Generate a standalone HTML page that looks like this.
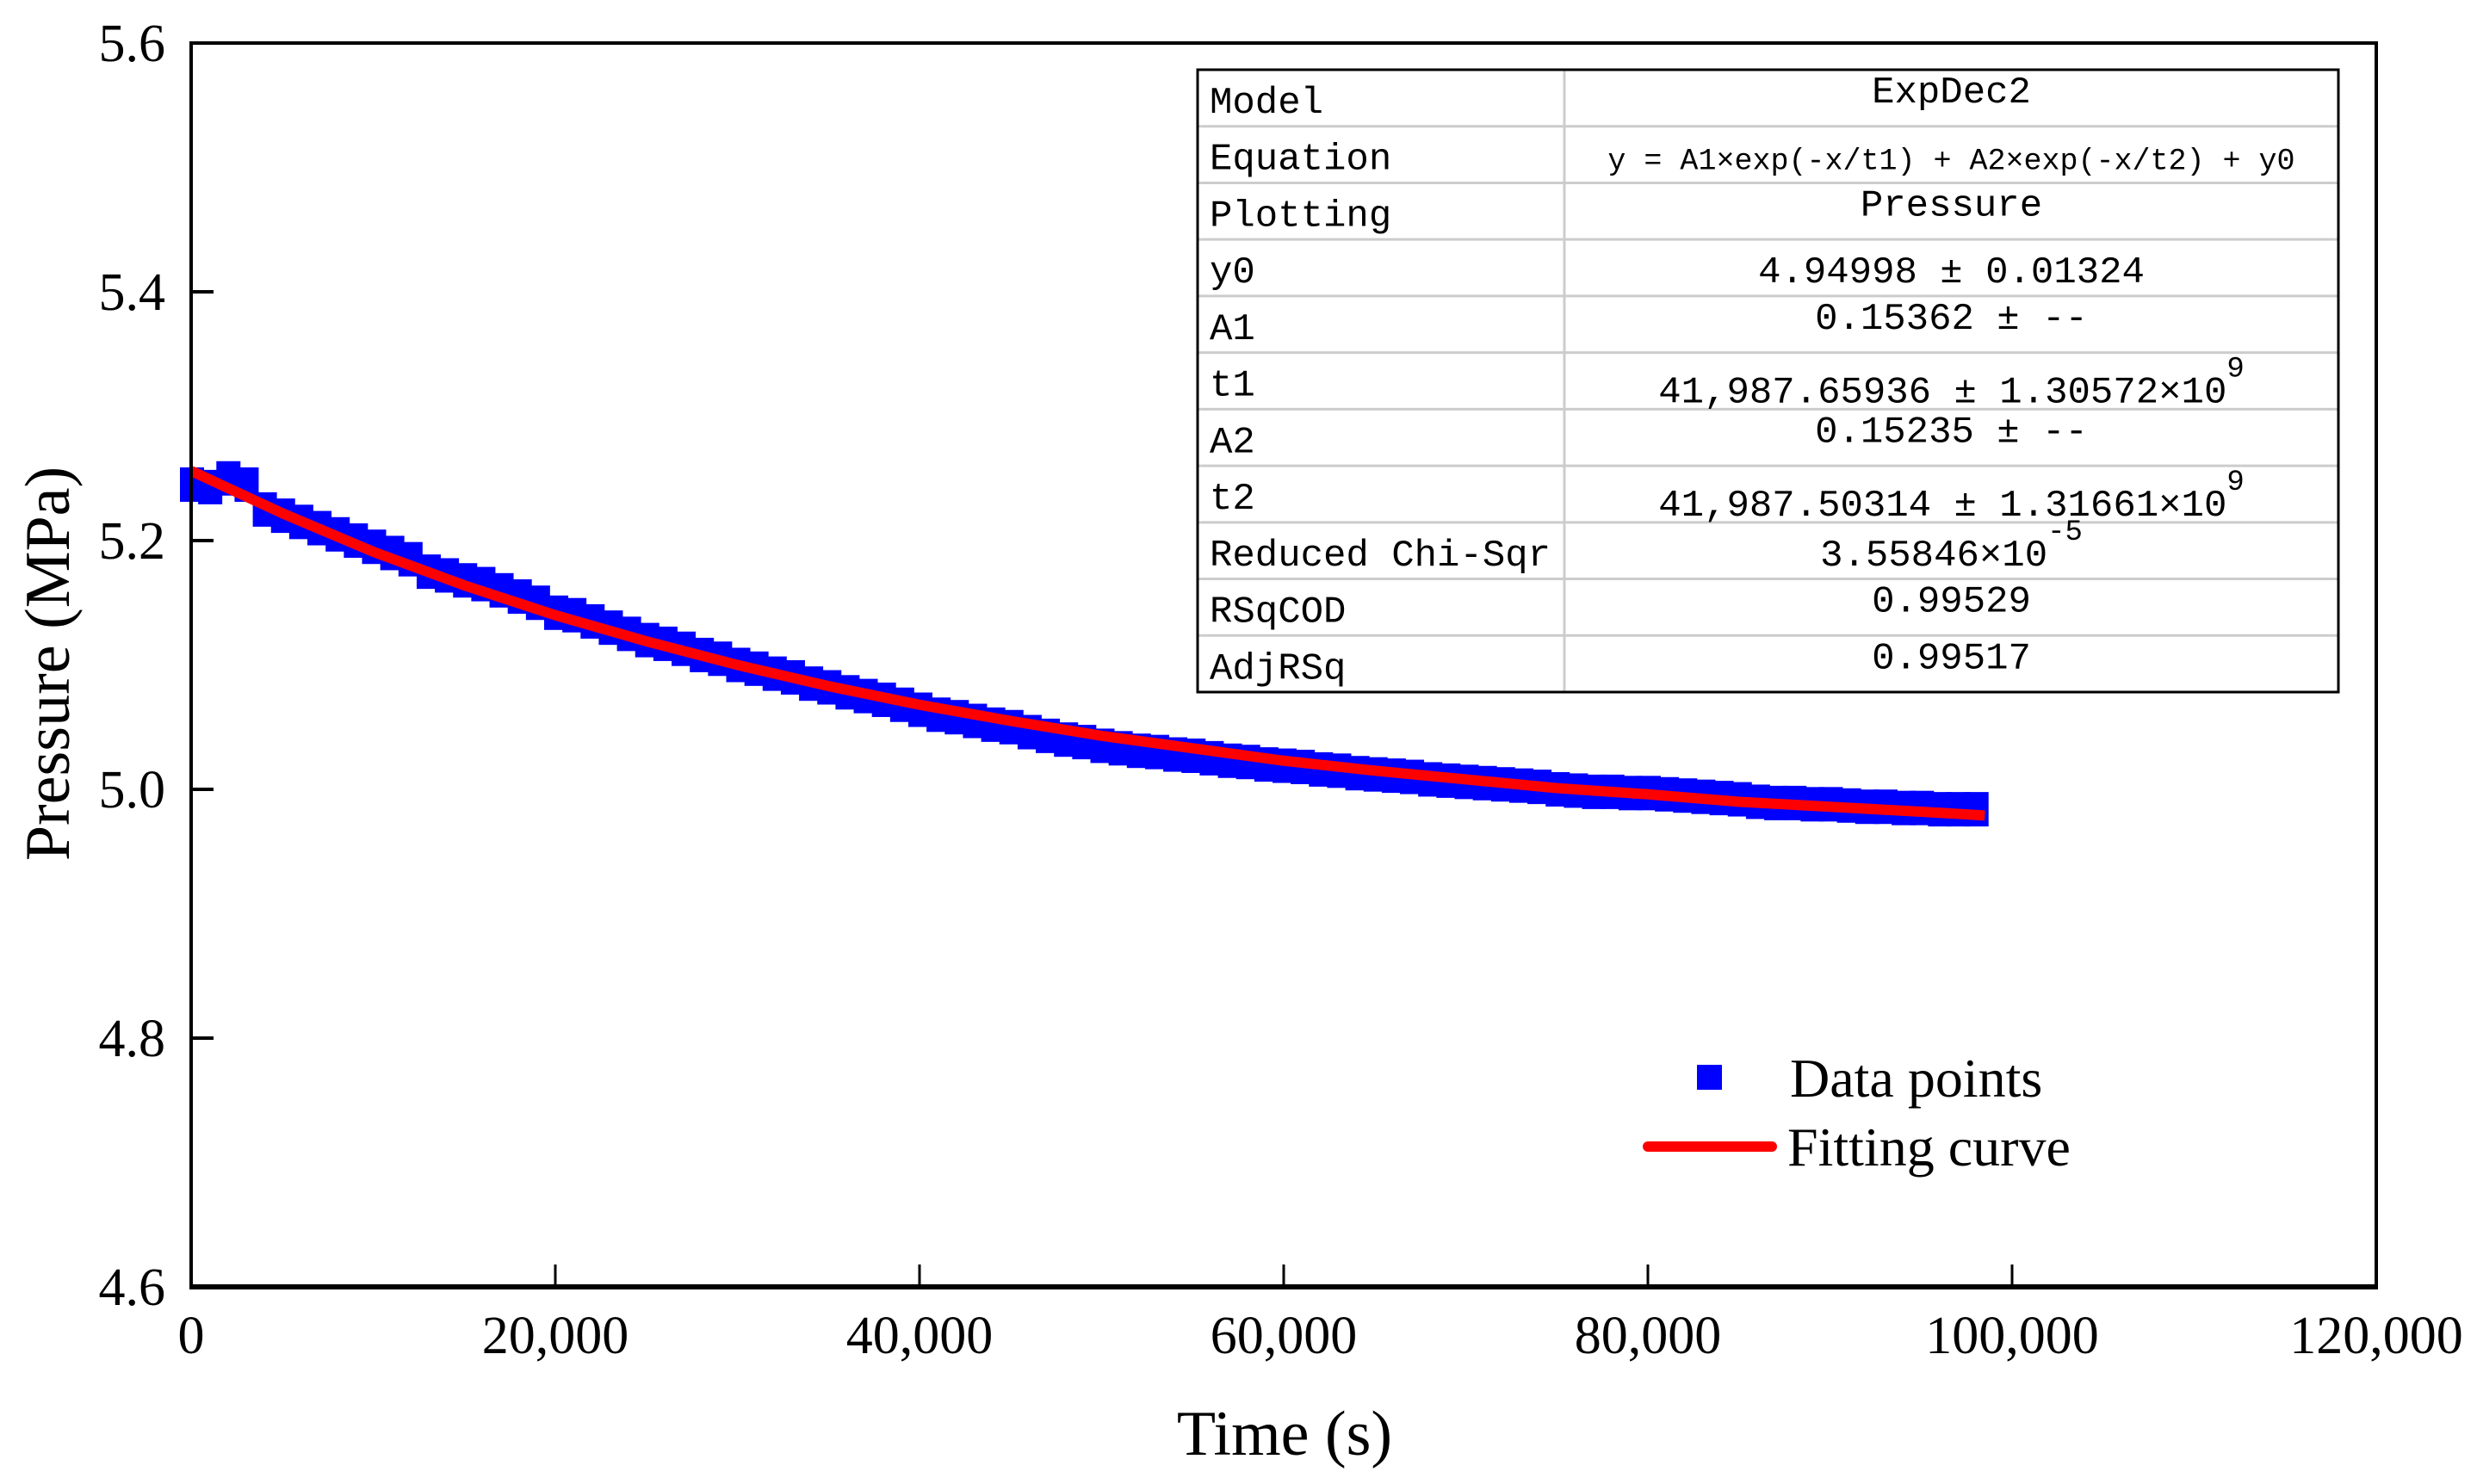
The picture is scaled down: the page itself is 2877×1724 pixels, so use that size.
<!DOCTYPE html>
<html><head><meta charset="utf-8">
<style>
html,body{margin:0;padding:0;background:#fff;}
svg{display:block;}
.tk{font-family:"Liberation Serif",serif;font-size:62px;fill:#000;}
.tb{font-family:"Liberation Mono","Noto Sans CJK SC",monospace;font-size:44px;fill:#000;}
</style></head>
<body>
<svg id="chart" width="2877" height="1724" viewBox="0 0 2877 1724" xmlns="http://www.w3.org/2000/svg">
<g id="marks"></g>
<g id="axes"></g>
<g id="table"></g>
<g>
  <rect x="1971" y="1237" width="29" height="29" fill="#0000ff"/>
  <text x="2079" y="1274" style="font-family:'Liberation Serif',serif;font-size:64px">Data points</text>
  <rect x="1908" y="1326" width="156" height="12" rx="6" fill="#ff0000"/>
  <text x="2076" y="1354" style="font-family:'Liberation Serif',serif;font-size:64px">Fitting curve</text>
</g>
<text x="1492" y="1690" text-anchor="middle" style="font-family:'Liberation Serif',serif;font-size:74px">Time (s)</text>
<text transform="translate(80,771) rotate(-90)" text-anchor="middle" style="font-family:'Liberation Serif',serif;font-size:74px">Pressure (MPa)</text>
</svg>
<script>
const xTicks=[0,20000,40000,60000,80000,100000,120000];
const xTickLabels=["0","20,000","40,000","60,000","80,000","100,000","120,000"];
const yTicks=[4.6,4.8,5.0,5.2,5.4,5.6];
const yTickLabels=["4.6","4.8","5.0","5.2","5.4","5.6"];
const dataTimes=[0,1000,2000,3000,4000,5000,6000,7000,8000,9000,10000,11000,12000,13000,14000,15000,16000,17000,18000,19000,20000,21000,22000,23000,24000,25000,26000,27000,28000,29000,30000,31000,32000,33000,34000,35000,36000,37000,38000,39000,40000,41000,42000,43000,44000,45000,46000,47000,48000,49000,50000,51000,52000,53000,54000,55000,56000,57000,58000,59000,60000,61000,62000,63000,64000,65000,66000,67000,68000,69000,70000,71000,72000,73000,74000,75000,76000,77000,78000,79000,80000,81000,82000,83000,84000,85000,86000,87000,88000,89000,90000,91000,92000,93000,94000,95000,96000,97000,98000];
const dataPressure=[5.245,5.243,5.25,5.245,5.225,5.22,5.215,5.21,5.205,5.2,5.195,5.19,5.185,5.175,5.172,5.168,5.165,5.16,5.155,5.15,5.142,5.14,5.135,5.13,5.125,5.12,5.117,5.113,5.108,5.105,5.1,5.097,5.093,5.09,5.085,5.082,5.078,5.075,5.072,5.068,5.064,5.06,5.058,5.055,5.052,5.05,5.046,5.043,5.04,5.038,5.035,5.033,5.031,5.03,5.028,5.027,5.025,5.023,5.022,5.02,5.019,5.018,5.016,5.015,5.013,5.012,5.011,5.01,5.008,5.007,5.006,5.005,5.004,5.003,5.002,5.0,4.999,4.998,4.998,4.997,4.997,4.996,4.995,4.994,4.993,4.992,4.99,4.989,4.989,4.988,4.988,4.987,4.986,4.986,4.985,4.985,4.984,4.984,4.984];
const fitTimes=[0,5000,10000,15000,20000,25000,30000,35000,40000,45000,50000,55000,60000,65000,70000,75000,80000,85000,90000,95000,98500];
const fitPressure=[5.256,5.222,5.191,5.164,5.140,5.119,5.100,5.083,5.068,5.055,5.043,5.033,5.023,5.015,5.008,5.001,4.996,4.990,4.986,4.982,4.979];

const L=222,R=2760,T=50,B=1495;
const xs=v=>L+(v-0)/120000*(R-L);
const ys=v=>B-(v-4.6)/1.0*(B-T);
const NS="http://www.w3.org/2000/svg";
function mk(tag,parent,attrs){const e=document.createElementNS(NS,tag);for(const k in attrs)e.setAttribute(k,attrs[k]);parent.appendChild(e);return e;}
const marks=document.getElementById('marks'),axes=document.getElementById('axes');

dataTimes.forEach((t,i)=>{
  const r=mk('rect',marks,{x:xs(t)-13,y:ys(dataPressure[i])-20,width:28,height:40,fill:'#0000ff'});
  
  
});
const pts=fitTimes.map((t,i)=>xs(t)+','+ys(fitPressure[i])).join(' ');
const fl=mk('polyline',marks,{points:pts,fill:'none',stroke:'#ff0000','stroke-width':12,'stroke-linejoin':'round'});



const frame=mk('rect',axes,{x:L,y:T,width:R-L,height:B-T,fill:'none',stroke:'#000','stroke-width':4});


const bx=mk('line',axes,{x1:L-2,x2:R+2,y1:B,y2:B,stroke:'#000','stroke-width':6});


xTicks.forEach((v,i)=>{
  if(i>0&&i<xTicks.length-1){const tl=mk('line',axes,{x1:xs(v),x2:xs(v),y1:B,y2:B-26,stroke:'#000','stroke-width':3});
  
  }
  const tx=mk('text',axes,{x:xs(v),y:1572,'text-anchor':'middle',class:'tk'});tx.textContent=xTickLabels[i];
  
  
});
yTicks.forEach((v,i)=>{
  if(i>0&&i<yTicks.length-1){const tl=mk('line',axes,{x1:L,x2:L+26,y1:ys(v),y2:ys(v),stroke:'#000','stroke-width':4});
  
  }
  const tx=mk('text',axes,{x:192,y:ys(v)+21,'text-anchor':'end',class:'tk'});tx.textContent=yTickLabels[i];
  
  
});

// table
const tbl=document.getElementById('table');
const TL=1391,TR=2716,TT=81,TB=804,CD=1817,rows=11,rh=(TB-TT)/rows;
mk('rect',tbl,{x:TL,y:TT,width:TR-TL,height:TB-TT,fill:'#fff',stroke:'none'});
for(let i=1;i<rows;i++)mk('line',tbl,{x1:TL,x2:TR,y1:TT+i*rh,y2:TT+i*rh,stroke:'#cccccc','stroke-width':3});
mk('line',tbl,{x1:CD,x2:CD,y1:TT,y2:TB,stroke:'#cccccc','stroke-width':3});
mk('rect',tbl,{x:TL,y:TT,width:TR-TL,height:TB-TT,fill:'none',stroke:'#000','stroke-width':3});
const labels=["Model","Equation","Plotting","y0","A1","t1","A2","t2","Reduced Chi-Sqr","RSqCOD","AdjRSq"];
const vals=[["ExpDec2"],["y = A1×exp(-x/t1) + A2×exp(-x/t2) + y0"],["Pressure"],["4.94998 ± 0.01324"],["0.15362 ± --"],["41,987.65936 ± 1.30572×10","9"],["0.15235 ± --"],["41,987.50314 ± 1.31661×10","9"],["3.55846×10","-5"],["0.99529"],["0.99517"]];
const valDy=[-12,0,-12,0,-12,8,-12,8,0,-12,-12];
labels.forEach((lab,i)=>{
  const base=TT+i*rh+50;
  const t=mk('text',tbl,{x:1405,y:base,class:'tb'});t.textContent=lab;
  
  
  const v=mk('text',tbl,{x:(CD+TR)/2,y:base+valDy[i],'text-anchor':'middle',class:'tb'});
  if(i===1)v.setAttribute('style','font-size:35px');
  const s1=document.createElementNS(NS,'tspan');s1.textContent=vals[i][0];v.appendChild(s1);
  if(vals[i][1]){const s2=document.createElementNS(NS,'tspan');s2.setAttribute('dy','-30');s2.setAttribute('style','font-size:34px');s2.textContent=vals[i][1];v.appendChild(s2);}
  
  
});
</script>
</body></html>
